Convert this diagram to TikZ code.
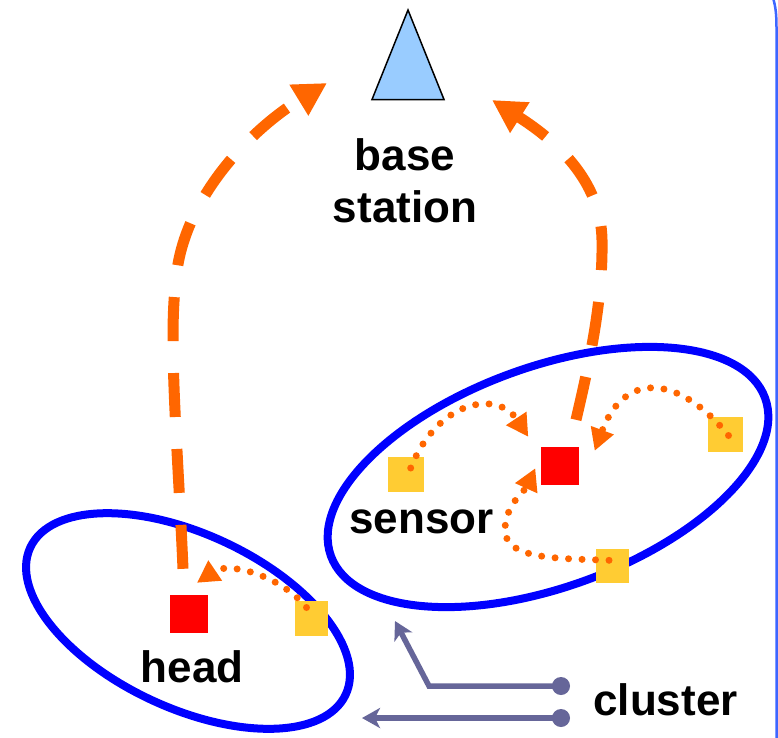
\documentclass[tikz,border=0pt]{standalone}
\usepackage{fontspec}
\setmainfont{Liberation Sans}
\usetikzlibrary{arrows.meta,shapes.geometric}

\definecolor{clusterblue}{HTML}{0000FF}
\definecolor{flow}{HTML}{FF6600}
\definecolor{headred}{HTML}{FF0000}
\definecolor{sensoryellow}{HTML}{FFCC33}
\definecolor{stationblue}{HTML}{99CCFF}
\definecolor{pointer}{HTML}{666699}
\definecolor{frameblue}{HTML}{3D66FF}

\begin{document}
\begin{tikzpicture}[x=1pt,y=-1pt,
  bigtext/.style={font=\fontsize{44}{52}\selectfont\bfseries, inner sep=0pt, align=center},
  clusterring/.style={ellipse, draw=clusterblue, line width=8pt, inner sep=0pt},
  headsq/.style={fill=headred, minimum size=38pt, inner sep=0pt},
  sensorsq/.style={fill=sensoryellow, minimum size=35pt, inner sep=0pt},
  uplink/.style={draw=flow, line width=11pt, dash pattern=on 44pt off 32pt,
    -{Triangle[length=33pt,width=34pt]}},
  hop/.style={draw=flow, line width=7pt, line cap=round, dash pattern=on 0pt off 13.5pt,
    -{Triangle[length=22pt,width=23pt]}},
  pointerline/.style={draw=pointer, line width=5.5pt,
    -{Stealth[length=18pt,width=20pt,inset=5pt]}},
  pointerdot/.style={circle, fill=pointer, minimum size=18pt, inner sep=0pt},
]
\fill[white] (0,0) rectangle (778,737);
\useasboundingbox (0,0) rectangle (778,737);

% edge of the surrounding frame
\draw[frameblue, line width=2.5pt] (773,-2) .. controls (775.5,6) and (776.5,14) .. (776.5,28) -- (776.5,740);

% base station
\draw[fill=stationblue, line width=1.5pt, line join=miter] (408,10) -- (444,99.5) -- (372,99.5) -- cycle;
\coordinate (bsleft) at (327,83);
\coordinate (bsright) at (492,100);
\node[bigtext, anchor=base] (bslabel) at (405,222) {base\\station};

% clusters
\node[clusterring, minimum width=348pt, minimum height=174pt, rotate=-25] (leftcl) at (188,621) {};
\node[clusterring, minimum width=462pt, minimum height=220pt, rotate=20] (rightcl) at (548,477) {};

% cluster heads and sensors
\node[headsq] (h1) at (189,614) {};
\node[sensorsq, minimum width=33pt] (s1) at (311.5,618.5) {};
\node[headsq] (h2) at (559.5,466) {};
\node[sensorsq, minimum width=36pt] (s2) at (406,474.5) {};
\node[sensorsq] (s3) at (725.5,434.5) {};
\node[sensorsq, minimum width=33pt, minimum height=34pt] (s4) at (612.5,566) {};

% labels
\node[bigtext, anchor=base] (headlabel) at (192,682) {head};
\node[bigtext, anchor=base] (sensorlabel) at (421.5,533) {sensor};
\node[bigtext, anchor=base] (clusterlabel) at (665.5,715) {cluster};

% sensor to head hops
\draw[hop] ([shift={(-5,-11)}]s1.center) .. controls +(-27,-33) and +(31,-21) .. ([shift={(8,-12)}]h1.north);
\draw[hop] ([shift={(4.7,-6.5)}]s2.center) .. controls +(27,-68) and +(-31,-47) .. ([shift={(-12,-10)}]h2.north west);
\draw[hop] ([shift={(3,1)}]s3.center) .. controls +(-49,-60) and +(30,-81) .. ([shift={(16,4)}]h2.north east);
\draw[hop] ([shift={(-3.5,-5.7)}]s4.center) .. controls +(-49,-2) and +(0,30) .. (505,530)
  .. controls +(0,-25) and +(-10,22) .. ([shift={(-5,-17)}]h2.south west);

% head to base station links
\draw[uplink] ([shift={(-6,-26)}]h1.north) .. controls (178,450) and (168,340) .. (176,280)
  .. controls (182,200) and (250,130) .. (bsleft);
\draw[uplink] ([shift={(16.5,-27)}]h2.north) .. controls (590,360) and (603,300) .. (602,240)
  .. controls (601,180) and (555,140) .. (bsright);

% cluster pointers
\node[pointerdot] (d1) at (561,686) {};
\node[pointerdot] (d2) at (561,718) {};
\coordinate (bend) at (429,686);
\coordinate (tipr) at (395,621);
\coordinate (tipl) at (362,718);
\draw[pointerline] (d1.center) -- (bend) -- (tipr);
\draw[pointerline] (d2.center) -- (tipl);
\end{tikzpicture}
\end{document}
